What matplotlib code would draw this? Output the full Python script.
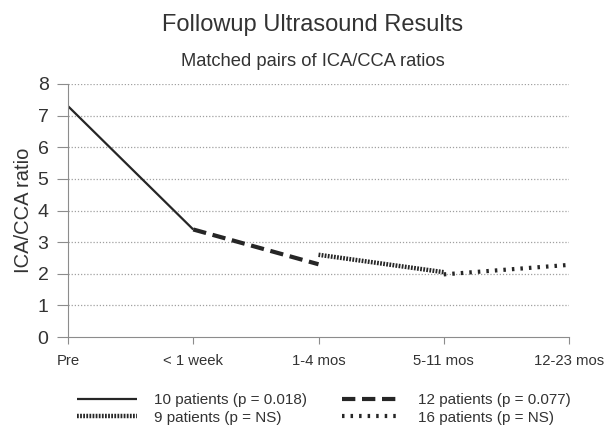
import matplotlib
matplotlib.use("Agg")
import matplotlib.pyplot as plt

plt.rcParams['font.family'] = ['Liberation Sans', 'DejaVu Sans']

# time points on the x axis
periods = ["Pre", "< 1 week", "1-4 mos", "5-11 mos", "12-23 mos"]

# each matched-pairs series covers two neighbouring periods
s1_idx = [0, 1]
s1_val = [7.3, 3.4]
s2_idx = [1, 2]
s2_val = [3.4, 2.3]
s3_idx = [2, 3]
s3_val = [2.6, 2.05]
s4_idx = [3, 4]
s4_val = [1.98, 2.28]

labels = ["10 patients (p = 0.018)", "12 patients (p = 0.077)",
          "9 patients (p = NS)", "16 patients (p = NS)"]

ink = "#262626"
txt = "#333333"
axc = "#8c8c8c"

fig = plt.figure(figsize=(6.08, 4.32), dpi=100)
ax = fig.add_axes([68/608, 1 - 337/432, (569 - 68)/608, (337 - 84)/432])

l1, = ax.plot(s1_idx, s1_val, color=ink, lw=1.6, solid_capstyle='butt')
l2, = ax.plot(s2_idx, s2_val, color=ink, lw=3.0, dashes=(3.2, 1.6))
l3, = ax.plot(s3_idx, s3_val, color=ink, lw=3.2, dashes=(0.4, 0.3))
l4, = ax.plot(s4_idx, s4_val, color=ink, lw=3.0, dashes=(0.6, 1.45))

ax.set_xlim(0, 4)
ax.set_ylim(0, 8)
ax.set_xticks(range(len(periods)))
ax.set_xticklabels(periods, fontsize=10.7, color=txt)
ax.set_yticks(range(0, 9))
ax.tick_params(axis='y', labelsize=14, colors=axc, labelcolor=txt, length=8, pad=6)
ax.tick_params(axis='x', colors=axc, labelcolor=txt, length=5, pad=7)

for y in range(1, 9):
    ax.axhline(y, color="#a0a0a0", lw=0.9, ls=(0, (1, 1.5)), zorder=0)

for s in ['top', 'right']:
    ax.spines[s].set_visible(False)
ax.spines['left'].set_color(axc)
ax.spines['bottom'].set_color(axc)

ax.set_ylabel("ICA/CCA ratio", fontsize=14.5, color=txt, labelpad=3)

fig.text(313/608, 1 - 25/432, "Followup Ultrasound Results", ha='center', va='center',
         fontsize=17, color=txt)
fig.text(313/608, 1 - 62/432, "Matched pairs of ICA/CCA ratios", ha='center', va='center',
         fontsize=13.2, color=txt)

fig.legend([l1, l3, l2, l4], [labels[0], labels[2], labels[1], labels[3]],
           ncol=2, frameon=False, fontsize=11, handlelength=3.9, handletextpad=1.1,
           columnspacing=2.3, labelspacing=0.2,
           loc='center', bbox_to_anchor=(324/608, 1 - 409/432),
           labelcolor=txt)

fig.savefig("out.png", dpi=100)
